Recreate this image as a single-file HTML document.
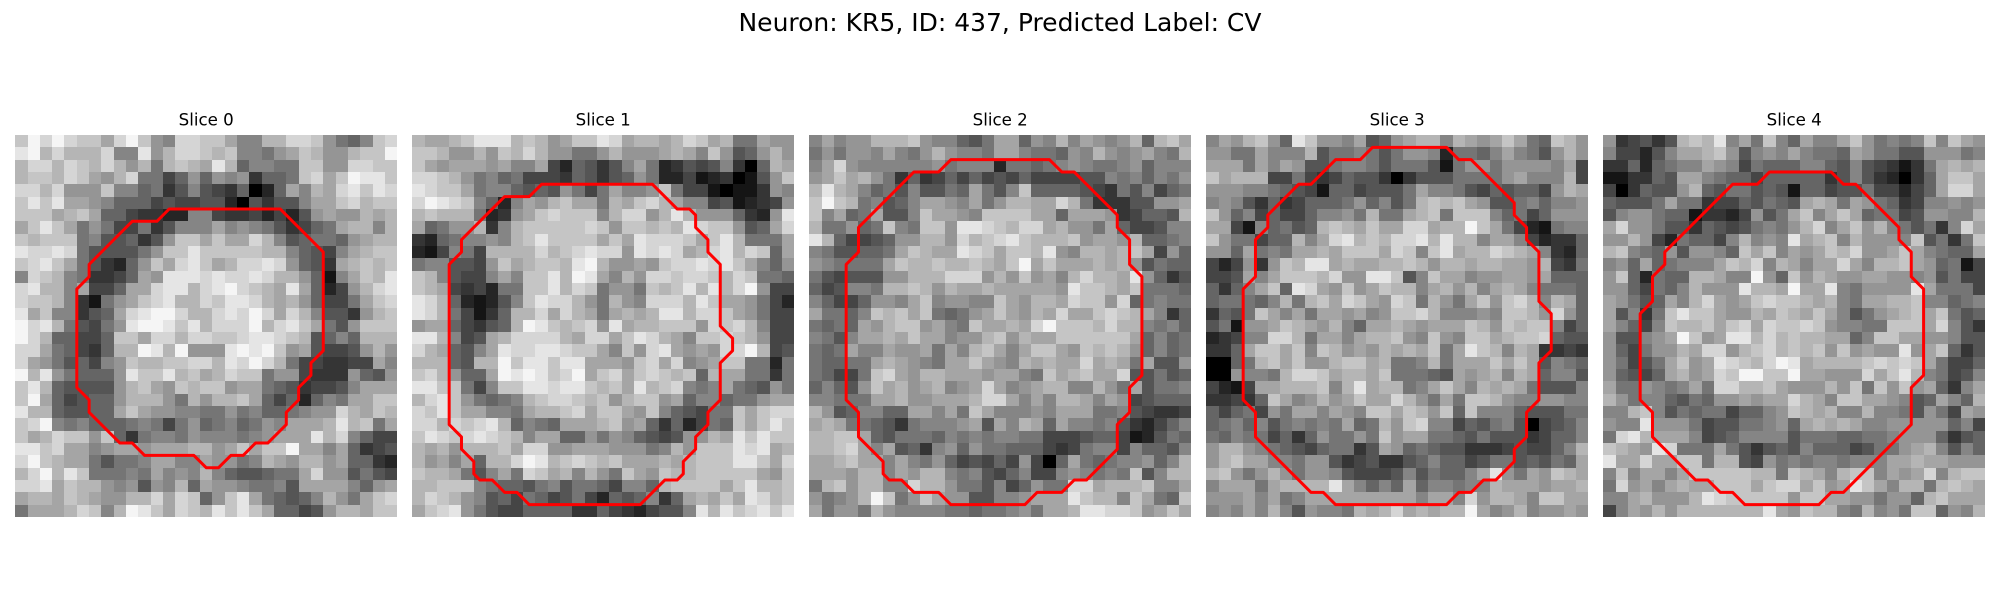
<!DOCTYPE html>
<html lang="en">
<head>
<meta charset="utf-8">
<title>Neuron: KR5, ID: 437, Predicted Label: CV</title>
<style>
html,body{margin:0;padding:0;background:#fff;width:2000px;height:600px;overflow:hidden}
svg{display:block}
text{font-family:"DejaVu Sans","Liberation Sans",sans-serif;fill:#000}
</style>
</head>
<body>
<svg id="figure" xmlns="http://www.w3.org/2000/svg" width="2000" height="600" viewBox="0 0 2000 600">
<rect x="0" y="0" width="2000" height="600" fill="#ffffff"/>
<text id="suptitle" x="1000" y="31" text-anchor="middle" font-size="25">Neuron: KR5, ID: 437, Predicted Label: CV</text>
</svg>
<script>
const sliceTitles = ["Slice 0","Slice 1","Slice 2","Slice 3","Slice 4"];
const slice0 = [
[12,15,13,15,13,12,12,10,13,15,12,9,8,13,13,12,12,10,8,8,11,11,13,13,12,9,7,6,8,12,13],
[14,15,11,13,11,11,11,13,8,8,14,9,11,13,13,12,11,12,8,8,7,9,10,12,11,9,9,11,12,12,15],
[11,13,13,11,13,12,11,13,11,9,11,7,11,12,11,10,14,11,6,8,8,7,7,12,12,9,9,13,13,12,12],
[11,12,12,11,13,12,10,9,11,13,7,7,4,6,9,6,9,8,9,3,6,6,7,12,13,10,12,15,14,14,12],
[13,13,11,13,9,9,9,12,8,8,6,7,3,5,8,5,4,3,6,0,2,6,10,8,11,10,13,14,12,14,13],
[12,14,12,14,10,10,9,8,6,6,6,4,5,4,4,5,5,2,0,5,3,5,5,8,10,10,12,13,11,12,12],
[12,12,12,10,11,12,10,6,6,4,3,3,2,2,8,8,4,3,3,4,2,4,2,5,9,10,9,9,11,10,11],
[10,12,14,12,10,7,9,7,4,4,7,3,5,8,8,8,10,8,9,8,7,5,3,4,6,7,10,11,11,8,11],
[12,11,12,12,12,7,8,5,5,6,3,5,9,12,12,10,12,10,10,13,11,8,5,6,7,7,6,9,10,11,11],
[14,13,13,14,13,7,5,5,5,5,7,9,12,12,14,12,12,12,12,12,11,11,8,6,5,4,8,10,11,12,12],
[12,13,14,12,10,7,5,3,2,6,9,12,10,13,14,12,10,11,13,13,14,13,9,6,5,3,10,11,12,11,12],
[8,13,12,11,8,7,3,3,4,6,10,9,14,14,14,13,14,13,13,14,13,11,11,9,6,1,8,10,12,11,14],
[13,14,11,11,8,10,4,4,6,10,10,13,14,14,11,13,14,15,13,12,11,10,14,10,6,2,4,9,11,13,14],
[13,12,12,11,8,3,1,7,9,10,12,13,14,11,11,13,12,14,14,13,11,10,11,9,6,4,4,7,10,12,13],
[14,10,12,8,8,3,5,6,10,13,14,15,15,13,11,11,13,14,13,15,13,10,13,11,8,5,5,3,9,11,12],
[15,13,14,11,7,5,4,7,9,14,15,15,14,12,14,11,13,13,13,15,11,13,14,12,10,7,5,9,12,12,12],
[15,13,11,6,6,4,4,6,12,12,10,13,13,11,13,13,12,12,13,14,14,13,12,11,5,6,8,6,11,11,11],
[13,13,10,7,6,4,3,6,11,11,15,14,11,15,9,9,9,14,15,14,15,12,9,10,5,4,4,5,9,11,9],
[13,10,9,7,5,6,4,8,9,12,11,11,12,12,13,13,11,14,13,15,13,11,7,4,4,3,3,4,4,10,8],
[15,11,14,9,7,6,6,6,9,14,12,12,14,11,12,10,11,13,12,12,7,9,9,4,3,3,3,9,6,5,9],
[12,14,11,6,5,5,5,5,9,11,12,10,9,12,11,12,12,9,10,10,7,6,5,3,4,4,5,8,10,10,10],
[12,15,10,6,4,5,6,6,9,11,11,11,9,7,11,9,11,11,12,10,6,4,6,2,6,8,7,10,10,12,12],
[14,11,11,6,5,5,6,6,10,12,10,9,9,8,8,7,7,9,7,8,6,6,7,8,9,9,13,11,10,12,11],
[12,13,15,8,7,8,6,6,6,7,8,7,4,7,9,6,7,8,6,7,9,8,10,10,10,11,14,11,12,7,10],
[12,10,11,13,12,12,9,12,6,3,7,8,8,7,9,8,8,8,7,8,9,10,10,10,14,11,13,8,6,4,4],
[14,14,12,13,10,10,8,9,10,10,9,10,10,10,11,11,9,10,12,10,12,12,15,10,10,8,10,6,3,4,5],
[13,15,12,11,10,10,7,5,7,7,8,10,10,8,8,10,9,9,7,8,11,10,9,11,11,9,10,6,6,3,2],
[11,13,15,11,14,12,7,7,7,8,7,10,8,9,8,11,8,6,5,5,6,7,7,10,13,9,9,5,7,5,4],
[13,13,14,10,12,11,11,9,8,9,5,9,8,11,6,10,9,9,8,7,7,8,5,10,10,10,10,8,6,9,10],
[10,11,11,10,12,11,10,9,9,11,11,13,10,13,12,6,9,12,14,10,7,6,5,6,8,11,9,7,10,12,13],
[7,10,10,10,11,13,12,8,11,15,14,12,10,13,12,11,14,12,14,12,10,6,6,4,5,9,11,11,10,12,12]
];
const slice1 = [
[11,10,10,11,12,14,14,14,11,12,11,9,10,12,12,14,13,10,11,11,10,11,13,12,10,11,7,7,10,9,9],
[12,12,11,9,9,11,9,12,11,13,11,9,9,7,7,9,11,9,9,9,10,11,10,8,12,9,5,6,9,11,9],
[12,10,9,10,10,10,9,10,8,8,10,4,2,6,5,3,5,8,10,7,2,3,5,4,5,8,3,0,6,11,10],
[13,13,12,11,9,7,8,6,7,4,4,4,3,6,5,3,5,6,9,7,2,2,4,1,2,3,0,1,5,9,12],
[14,13,12,12,10,7,8,8,6,5,6,5,9,7,4,7,10,8,8,9,12,7,4,4,1,0,1,1,3,9,8],
[13,15,14,13,12,8,6,2,8,10,9,11,12,10,10,7,11,10,12,13,11,10,8,8,4,5,1,2,3,4,9],
[11,12,11,11,11,7,2,3,9,10,12,13,12,12,12,8,11,13,13,9,11,14,11,9,9,9,6,3,2,9,14],
[10,6,7,9,9,11,3,8,11,12,12,12,12,12,13,12,9,12,12,11,12,11,14,13,12,12,9,5,6,10,13],
[3,2,6,7,8,8,9,8,11,12,14,12,12,12,12,10,12,10,14,13,13,13,12,10,12,14,11,7,7,7,10],
[2,1,4,8,7,4,11,11,11,11,13,11,12,13,14,13,13,9,14,13,14,13,10,11,13,14,11,13,12,6,10],
[7,8,8,5,5,4,9,12,10,11,12,12,11,14,15,11,9,9,10,9,12,13,13,14,13,14,12,10,8,6,9],
[12,11,8,5,4,4,8,10,8,12,12,14,11,15,14,10,8,11,9,13,13,12,13,13,12,11,13,12,7,7,6],
[12,11,10,4,3,4,2,7,7,12,12,14,11,13,12,7,9,9,7,12,11,12,14,11,14,11,13,15,9,4,4],
[14,13,11,6,2,1,2,5,8,12,14,13,13,11,9,7,11,9,8,13,13,13,11,14,12,10,10,9,7,4,2],
[14,13,11,7,4,1,3,6,11,11,13,10,13,11,10,7,10,11,10,11,14,14,11,13,13,12,10,9,7,4,4],
[9,10,10,6,4,3,5,6,11,15,14,12,11,12,13,9,14,10,11,11,12,12,12,9,13,12,13,11,8,4,4],
[14,14,11,8,4,5,10,11,13,13,13,13,11,10,13,13,10,12,14,13,11,10,8,12,12,13,12,11,9,4,4],
[13,11,10,6,5,8,10,14,13,13,14,14,13,12,12,10,8,12,9,13,14,10,9,10,9,13,13,15,11,4,5],
[11,11,11,6,5,11,11,15,12,14,14,12,14,14,10,10,10,9,12,13,10,13,8,9,10,12,12,7,7,2,7],
[12,13,11,9,6,6,10,15,14,15,14,12,13,15,10,12,13,10,12,13,12,11,12,6,11,10,10,7,7,3,7],
[14,14,12,12,7,4,8,12,12,14,14,13,14,14,12,11,12,10,14,11,12,13,8,7,8,10,7,6,5,9,7],
[11,13,14,12,9,7,6,7,8,11,12,13,13,12,11,12,9,11,12,12,9,10,6,8,8,6,7,7,9,10,10],
[13,12,14,12,10,10,8,8,7,10,11,11,12,13,10,12,12,10,9,12,8,6,5,4,7,7,12,10,12,13,13],
[13,13,11,13,12,13,14,11,6,8,7,6,10,10,10,11,12,9,10,6,3,6,2,4,7,6,12,10,12,14,12],
[12,14,13,12,13,14,13,12,11,8,10,10,6,6,9,7,9,8,6,5,4,5,9,9,11,10,14,12,14,12,12],
[11,10,11,9,11,11,11,12,10,13,13,9,9,10,10,10,9,9,9,7,8,11,9,12,12,12,14,13,14,10,11],
[11,9,10,8,10,6,11,11,13,15,14,11,12,13,12,11,12,10,10,10,11,10,11,12,12,12,14,14,12,10,13],
[12,11,11,10,7,5,8,10,7,13,12,10,11,8,11,9,7,12,10,9,12,11,11,12,12,12,12,12,10,9,12],
[11,11,12,12,12,8,7,6,6,5,7,8,5,7,7,6,4,8,8,6,11,12,12,12,12,10,12,14,11,11,12],
[11,13,12,11,9,8,5,6,4,7,6,4,5,7,4,2,6,5,6,8,3,6,10,11,10,12,10,14,13,11,12],
[10,12,13,14,9,7,5,4,4,6,6,6,6,3,3,6,4,3,2,4,5,5,8,14,11,14,12,13,14,12,14]
];
const slice2 = [
[8,10,8,9,9,11,11,11,12,9,8,8,6,5,7,10,10,6,9,8,11,8,10,9,8,9,11,6,11,12,10],
[7,9,7,9,9,8,10,8,7,9,11,9,8,8,7,10,10,8,7,7,6,9,8,11,9,8,9,10,8,7,11],
[8,10,13,9,8,8,8,8,8,8,9,7,8,8,8,2,7,7,6,7,8,9,8,7,7,8,9,6,8,8,8],
[9,10,12,10,11,9,7,3,6,3,4,6,4,6,4,5,4,6,4,4,4,4,5,5,8,7,8,6,8,7,9],
[11,14,11,10,8,6,7,5,8,5,5,7,6,10,7,5,8,12,6,6,6,6,5,4,3,7,5,8,4,6,7],
[12,15,12,11,7,8,5,6,8,10,10,9,8,10,7,9,11,11,10,10,13,11,7,3,3,3,5,5,9,9,10],
[12,8,10,6,7,10,5,5,8,12,10,10,9,8,12,12,12,12,10,10,6,10,10,10,9,3,4,6,6,5,11],
[11,7,7,9,6,7,12,8,7,12,12,9,14,14,13,12,11,13,13,10,11,9,9,7,10,6,4,4,5,8,8],
[14,11,6,4,4,5,6,9,9,11,11,9,13,11,12,13,14,12,11,11,11,12,9,10,10,9,11,6,6,7,8],
[8,7,5,5,6,6,7,10,12,11,10,10,14,13,12,10,12,12,11,14,9,8,11,11,10,11,12,10,4,9,6],
[9,8,7,7,7,7,10,12,11,11,12,11,11,12,11,10,12,15,10,12,10,10,10,11,10,11,9,5,7,6,6],
[7,5,4,5,5,5,9,9,11,11,11,13,13,13,9,11,9,12,9,10,8,11,13,11,11,10,14,9,6,3,5],
[6,4,5,8,8,7,11,11,12,11,9,11,10,10,11,10,10,10,10,10,9,14,12,12,11,10,12,7,7,7,6],
[8,6,4,4,6,9,9,8,10,12,8,9,9,8,8,12,10,9,11,11,10,13,12,12,9,13,6,7,8,7,7],
[10,7,7,6,8,12,11,12,10,12,7,6,7,9,10,12,10,9,11,10,13,10,10,12,13,12,11,10,8,3,6],
[7,6,7,6,10,9,11,12,12,9,10,8,7,12,10,10,11,10,13,15,12,12,12,11,13,11,11,8,7,8,6],
[8,7,5,8,10,10,11,10,12,10,10,8,9,9,11,12,9,11,10,10,12,12,12,12,12,12,10,6,8,6,7],
[7,6,7,10,8,8,10,9,9,10,7,10,8,11,12,10,8,10,12,12,10,9,12,11,12,11,9,6,8,6,7],
[7,6,6,7,7,10,11,10,9,8,7,10,10,12,10,9,8,11,10,11,10,10,13,10,11,10,7,10,5,5,9],
[7,6,4,4,7,12,13,10,9,11,11,10,10,10,9,10,10,8,7,12,10,11,12,10,10,13,5,5,7,5,6],
[6,8,6,5,9,12,10,11,9,10,11,8,9,10,13,10,8,9,10,11,11,8,8,11,9,7,10,5,7,7,8],
[8,8,7,7,7,10,10,11,9,9,10,10,10,11,13,13,10,8,10,8,11,11,10,8,10,9,4,5,6,6,6],
[11,9,5,6,8,8,6,6,10,10,8,10,7,12,10,8,8,8,9,8,10,10,10,7,7,8,5,4,3,3,4],
[10,11,10,7,7,6,5,3,7,8,8,8,9,10,5,10,8,11,10,6,10,8,8,7,8,5,3,2,4,6,8],
[11,11,12,12,10,6,5,7,7,7,6,8,7,8,7,8,8,7,7,4,4,4,5,6,6,4,1,2,5,7,6],
[11,11,12,13,10,8,10,5,6,3,8,9,6,9,7,7,6,6,6,4,3,4,7,8,8,4,8,6,6,5,8],
[10,10,11,12,10,10,8,10,8,7,9,6,4,5,4,6,4,9,4,0,6,10,7,6,7,8,8,9,6,8,11],
[10,10,10,9,11,11,8,10,9,11,11,8,7,8,5,4,6,8,4,4,8,9,8,7,8,7,12,5,8,11,11],
[7,11,12,9,11,11,8,8,13,11,11,9,7,7,5,8,4,6,9,7,7,13,13,10,11,11,11,12,8,8,10],
[9,7,8,9,11,15,12,7,9,12,10,9,9,5,5,8,8,9,10,10,10,14,12,11,11,8,12,10,7,6,12],
[10,7,9,9,7,11,9,8,8,8,8,7,7,6,7,7,8,9,7,10,10,11,14,14,13,13,12,9,10,12,10]
];
const slice3 = [
[8,10,9,11,12,9,6,14,12,9,9,8,10,5,6,9,10,11,11,8,11,10,9,10,12,10,7,6,12,11,9],
[9,9,7,7,10,8,8,8,11,5,7,7,8,7,5,7,9,9,8,2,7,7,6,8,10,8,7,5,9,11,9],
[10,10,10,7,10,8,10,9,5,5,7,8,8,7,5,7,7,7,5,1,7,9,9,7,9,9,9,9,8,10,4],
[12,10,11,11,11,4,4,7,4,3,4,6,5,5,3,0,3,5,5,5,7,7,7,7,9,10,8,8,8,11,4],
[9,9,9,8,8,7,6,5,4,1,6,6,4,5,5,5,7,10,8,8,7,5,4,6,5,6,6,4,9,11,10],
[8,9,8,5,3,6,3,4,6,6,6,7,9,6,8,5,7,11,12,11,12,10,9,5,5,7,8,6,8,8,9],
[12,9,6,8,4,6,4,4,6,8,8,9,7,11,7,7,10,11,12,7,12,12,12,8,6,7,4,6,9,9,9],
[10,10,4,1,8,6,7,5,6,11,12,11,10,12,10,10,13,13,10,11,11,15,12,10,7,4,2,1,7,8,8],
[12,9,7,7,4,6,6,11,8,10,13,14,11,12,11,13,13,14,11,14,11,11,8,10,10,8,4,2,3,3,6],
[9,9,6,10,7,8,7,10,10,11,10,12,12,12,10,13,12,8,12,14,10,11,11,13,12,11,10,8,3,2,6],
[4,2,4,9,3,9,12,11,14,14,10,11,10,10,11,11,12,11,9,11,11,10,11,11,10,10,9,11,4,3,7],
[4,4,5,10,8,10,12,12,12,11,13,9,9,14,14,12,5,8,12,10,10,8,9,9,10,10,9,10,6,6,6],
[6,3,6,8,10,12,6,14,13,10,9,12,9,10,12,11,11,8,10,11,9,11,8,10,11,10,8,7,7,7,6],
[6,7,7,7,6,8,11,7,11,12,10,13,12,10,9,13,12,7,11,9,7,10,12,9,12,13,11,8,11,10,6],
[3,6,5,7,12,10,8,10,7,10,10,9,10,8,9,12,12,13,11,8,8,8,9,8,12,12,11,9,13,9,6],
[5,7,1,9,9,10,12,11,10,9,11,8,6,10,10,11,10,9,10,10,10,12,11,9,12,11,12,12,8,4,6],
[2,3,4,8,8,13,13,11,7,10,10,8,10,11,11,12,9,8,12,9,8,12,12,10,11,12,12,13,6,5,5],
[3,3,6,10,12,12,10,12,8,12,11,9,10,9,11,10,11,10,12,7,10,14,12,11,8,11,10,3,3,4,3],
[0,0,6,7,11,12,10,12,9,9,11,12,12,10,11,7,7,8,11,7,10,10,10,12,10,12,10,5,8,7,6],
[0,0,9,8,8,7,11,13,13,12,10,11,11,10,12,7,7,7,6,5,10,9,10,11,8,11,10,6,8,8,5],
[4,2,1,4,10,10,11,11,11,12,8,11,14,10,11,11,7,8,10,12,10,8,11,10,11,10,7,5,5,5,8],
[3,3,4,3,6,12,10,8,9,11,9,10,12,10,10,13,11,9,7,10,7,12,12,11,9,8,8,9,9,8,8],
[6,4,6,7,4,9,7,10,10,8,10,9,8,12,12,10,12,11,9,12,6,12,8,8,8,6,5,5,5,7,7],
[6,7,8,6,8,5,7,8,7,8,7,10,6,7,11,9,12,13,8,8,4,6,5,7,8,5,0,4,5,6,8],
[7,6,8,7,7,4,6,3,6,9,7,7,9,7,12,9,10,10,7,7,6,5,7,5,5,5,3,4,6,6,8],
[9,11,11,9,8,7,6,5,4,6,7,7,3,5,10,9,6,7,6,5,5,3,3,3,4,5,4,4,6,8,11],
[9,11,12,10,10,8,8,7,9,9,5,3,4,5,3,3,5,6,8,6,6,4,5,7,7,5,6,5,7,6,10],
[11,12,9,7,9,11,9,7,9,9,8,5,4,4,4,5,8,5,7,6,6,8,10,14,9,7,10,9,12,11,10],
[8,10,10,10,7,10,11,11,11,11,14,10,8,6,8,6,10,6,8,8,7,8,8,11,10,10,10,9,10,10,11],
[9,9,9,10,8,10,7,8,10,10,10,10,10,10,10,10,10,8,10,10,8,13,9,11,11,10,8,12,12,10,10],
[8,9,8,10,8,11,8,5,9,8,8,7,11,10,11,13,10,11,10,11,11,15,10,8,9,11,8,9,9,10,9]
];
const slice4 = [
[9,3,4,5,3,5,11,12,11,14,8,10,7,12,8,6,10,8,8,10,12,9,7,8,7,8,12,8,12,10,9],
[8,4,4,2,5,8,10,10,11,12,9,5,8,9,8,10,8,7,7,6,10,9,7,7,5,5,9,9,9,7,8],
[3,3,6,2,6,7,8,8,10,9,8,4,7,6,6,6,8,8,6,5,8,5,4,3,1,3,7,10,11,10,11],
[1,1,3,3,6,5,10,10,8,7,6,6,4,6,6,6,6,6,3,5,8,5,3,2,0,3,6,10,12,12,10],
[4,0,3,6,5,5,9,11,6,5,7,7,5,6,5,1,6,6,4,5,5,7,4,4,2,4,6,10,13,13,10],
[6,5,5,5,7,10,7,7,3,4,4,6,5,7,6,5,10,11,10,7,10,9,7,6,3,4,8,8,9,8,9],
[5,8,9,9,7,6,6,1,3,3,2,4,9,5,7,10,12,8,10,12,10,6,7,7,4,5,9,9,8,8,11],
[10,13,9,9,7,5,5,3,6,5,4,5,7,8,7,9,11,13,8,10,12,9,11,8,7,5,7,3,8,13,10],
[9,9,11,9,4,2,7,6,6,4,8,11,8,9,8,14,10,11,12,8,11,9,9,9,8,12,5,7,3,7,12],
[11,12,8,7,6,9,5,9,9,8,6,12,10,12,8,10,9,10,12,11,13,9,9,10,12,10,8,7,6,6,10],
[8,9,6,10,6,7,8,8,8,10,12,11,13,8,11,10,8,10,10,13,10,8,11,11,12,10,9,6,7,1,4],
[9,12,6,2,7,6,6,11,11,10,8,8,15,9,6,12,9,11,10,9,9,10,10,9,9,8,9,5,7,4,4],
[9,9,6,4,7,6,8,11,9,9,9,14,11,11,10,15,10,10,14,8,7,9,9,9,9,14,10,7,7,7,4],
[10,9,7,5,6,10,8,11,13,10,9,10,12,13,12,12,11,10,11,8,7,10,10,11,11,12,8,8,6,7,8],
[10,5,8,3,7,12,14,12,12,10,9,9,11,10,12,11,10,12,10,8,5,7,9,10,11,12,10,12,7,5,6],
[10,8,6,4,8,12,11,11,12,10,12,13,10,13,12,12,13,12,9,8,8,7,7,12,12,12,10,13,8,5,3],
[9,5,5,8,9,10,15,12,9,10,14,14,11,13,11,12,11,11,10,10,6,8,12,12,10,10,9,9,8,5,5],
[9,6,4,7,9,9,11,10,13,13,9,11,12,13,11,12,11,12,9,12,9,10,9,9,14,9,10,12,6,3,5],
[9,7,4,5,7,10,12,9,10,14,13,12,11,13,15,14,10,11,11,11,11,12,13,12,13,12,10,7,4,4,6],
[9,6,5,4,6,10,11,9,10,13,12,15,15,12,12,15,10,10,9,9,9,13,10,12,14,11,8,7,4,5,8],
[10,7,7,9,8,7,8,10,7,13,13,11,11,12,10,9,9,9,11,9,12,7,12,9,12,9,10,6,3,8,10],
[11,9,7,8,8,6,5,7,6,9,9,10,9,10,10,13,11,10,8,12,12,10,10,9,8,5,6,10,8,6,11],
[8,8,11,12,8,5,7,6,7,7,4,6,6,8,9,12,11,10,11,8,8,11,8,8,7,5,9,7,4,10,9],
[9,8,8,14,9,9,9,7,4,5,5,7,7,8,9,6,10,11,10,11,10,8,8,9,9,9,9,9,6,8,4],
[7,13,14,11,10,10,10,8,4,5,6,8,8,8,8,5,7,7,7,6,6,7,7,8,9,9,9,6,3,5,6],
[12,11,10,9,14,13,7,7,7,10,7,5,3,5,6,5,8,6,6,6,4,5,7,7,9,10,11,8,5,8,6],
[14,10,10,13,10,10,12,12,7,11,11,5,4,9,7,8,7,8,8,7,8,8,8,10,10,11,10,10,9,9,9],
[8,12,8,10,10,8,10,12,12,12,12,12,11,11,7,12,11,10,8,11,12,12,8,10,9,10,13,8,11,12,12],
[7,13,9,10,8,10,11,10,10,12,12,12,10,12,13,13,10,12,9,10,14,12,10,8,11,11,7,11,12,11,10],
[8,8,10,11,9,9,9,11,14,13,12,12,12,12,12,9,12,12,10,10,9,9,7,9,9,6,11,12,10,10,10],
[4,8,10,9,11,9,11,11,11,11,11,11,11,14,10,9,12,11,11,8,7,11,8,9,7,12,12,6,9,8,11]
];
const contour0X = [12.5,21.5,25,25,24,24,23,23,22,22,20.5,19.5,18.5,17.5,16.5,15.5,14.5,10.5,9.5,8.5,6,6,5,5,6,6,9.5,11.5];
const contour0Y = [6,6,9.5,17.5,18.5,19.5,20.5,21.5,22.5,23.5,25,25,26,26,27,27,26,26,25,25,22.5,21.5,20.5,12.5,11.5,10.5,7,7];
const contour1X = [10.5,19.5,21.5,22.5,23,23,24,24,25,25,26,26,25,25,24,24,23,23,22,22,21.5,20.5,18.5,9.5,8.5,7.5,6.5,5.5,5,5,4,4,3,3,4,4,7.5,9.5];
const contour1Y = [4,4,6,6,6.5,7.5,8.5,9.5,10.5,15.5,16.5,17.5,18.5,21.5,22.5,23.5,24.5,25.5,26.5,27.5,28,28,30,30,29,29,28,28,27.5,26.5,25.5,24.5,23.5,10.5,9.5,8.5,5,5];
const contour2X = [11.5,19.5,20.5,21.5,25,25,26,26,27,27,26,26,25,25,22.5,21.5,20.5,18.5,17.5,11.5,10.5,8.5,7.5,6.5,6,6,4,4,3,3,4,4,8.5,10.5];
const contour2Y = [2,2,3,3,6.5,7.5,8.5,10.5,11.5,19.5,20.5,22.5,23.5,25.5,28,28,29,29,30,30,29,29,28,28,27.5,26.5,24.5,22.5,21.5,10.5,9.5,7.5,3,3];
const contour3X = [13.5,19.5,20.5,21.5,25,25,26,26,27,27,28,28,27,27,26,26,25,25,23.5,22.5,21.5,20.5,19.5,10.5,9.5,8.5,4,4,3,3,4,4,5,5,7.5,8.5,10.5,12.5];
const contour3Y = [1,1,2,2,5.5,6.5,7.5,8.5,9.5,13.5,14.5,17.5,18.5,21.5,22.5,24.5,25.5,26.5,28,28,29,29,30,30,29,29,24.5,22.5,21.5,12.5,11.5,8.5,7.5,6.5,4,4,2,2];
const contour4X = [13.5,18.5,19.5,20.5,24,24,25,25,26,26,25,25,19.5,18.5,17.5,11.5,10.5,9.5,8.5,7.5,4,4,3,3,4,4,5,5,10.5,12.5];
const contour4Y = [3,3,4,4,7.5,8.5,9.5,11.5,12.5,19.5,20.5,23.5,29,29,30,30,29,29,28,28,24.5,22.5,21.5,14.5,13.5,11.5,10.5,9.5,4,4];

const slices = [slice0,slice1,slice2,slice3,slice4];
const contoursX = [contour0X,contour1X,contour2X,contour3X,contour4X];
const contoursY = [contour0Y,contour1Y,contour2Y,contour3Y,contour4Y];

const NS = "http://www.w3.org/2000/svg";
const svg = document.getElementById("figure");
const panelLeft = 15.2, panelPitch = 397, panelTop = 135, panelSize = 382;
const gridSize = 31;
const cell = panelSize / gridSize;
function xScale(panel, v){ return panelLeft + panel * panelPitch + v * cell; }
function yScale(v){ return panelTop + v * cell; }
function grayColor(v){ const g = Math.max(0, Math.min(255, v === 0 ? 0 : Math.round(v * 16 + 5))); return "rgb(" + g + "," + g + "," + g + ")"; }

slices.forEach(function(grid, p){
  const group = document.createElementNS(NS, "g");
  
  
  svg.appendChild(group);

  const title = document.createElementNS(NS, "text");
  
  
  title.setAttribute("x", xScale(p, gridSize / 2));
  title.setAttribute("y", 125.5);
  title.setAttribute("text-anchor", "middle");
  title.setAttribute("font-size", "16.67");
  title.textContent = sliceTitles[p];
  group.appendChild(title);

  grid.forEach(function(row, r){
    row.forEach(function(value, c){
      const rect = document.createElementNS(NS, "rect");
      
      
      const x0 = Math.round(xScale(p, c)), x1 = Math.round(xScale(p, c + 1));
      const y0 = Math.round(yScale(r)), y1 = Math.round(yScale(r + 1));
      rect.setAttribute("x", x0);
      rect.setAttribute("y", y0);
      rect.setAttribute("width", x1 - x0);
      rect.setAttribute("height", y1 - y0);
      rect.setAttribute("fill", grayColor(value));
      rect.setAttribute("shape-rendering", "crispEdges");
      group.appendChild(rect);
    });
  });

  const outline = document.createElementNS(NS, "polygon");
  
  
  outline.setAttribute("points", contoursX[p].map(function(v, i){
    return xScale(p, v).toFixed(2) + "," + yScale(contoursY[p][i]).toFixed(2);
  }).join(" "));
  outline.setAttribute("fill", "none");
  outline.setAttribute("stroke", "#ff0000");
  outline.setAttribute("stroke-width", "3");
  outline.setAttribute("stroke-linejoin", "round");
  group.appendChild(outline);
});
</script>
</body>
</html>
